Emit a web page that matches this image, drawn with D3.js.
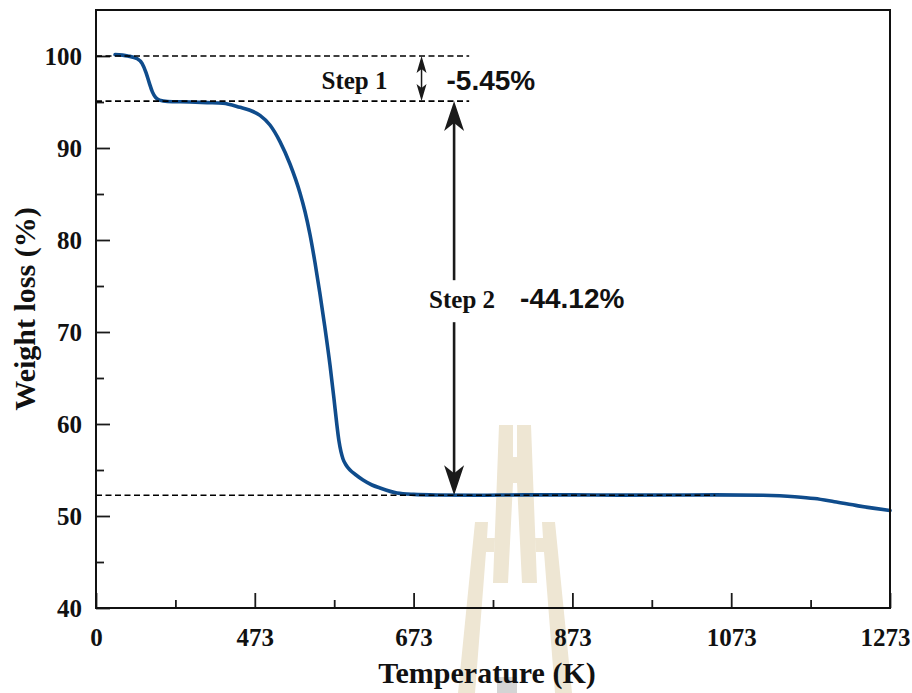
<!DOCTYPE html>
<html>
<head>
<meta charset="utf-8">
<script src="https://cdn.jsdelivr.net/npm/d3@7"></script>
<style>
  html, body { margin: 0; padding: 0; background: #fff; }
  svg { display: block; }
</style>
</head>
<body>
<script>
// ---- data ----
const temps = [24, 40, 52, 58, 63, 67, 71, 75, 80, 90, 118, 140, 160, 181.4, 193.9, 206.5, 219.1, 231.7, 244.3, 256.9, 263.2, 269.5, 275.8, 282.1, 288.4, 294.7, 299.7, 303.1, 306.0, 308.6, 311.1, 314.9, 319.9, 327.5, 336.3, 347.6, 357.7, 379.1, 400, 430, 480, 540, 600, 660, 720, 780, 840, 880, 905, 930, 960, 1000];
const weights = [100.15, 100.0, 99.7, 99.2, 98.2, 97.1, 96.1, 95.5, 95.2, 95.05, 95.0, 94.93, 94.86, 94.42, 94.1, 93.55, 92.5, 90.7, 88.26, 85.11, 83.10, 80.60, 77.55, 74.13, 70.43, 66.41, 62.76, 60.11, 58.15, 56.96, 56.20, 55.54, 55.0, 54.46, 53.91, 53.37, 53.04, 52.5, 52.35, 52.28, 52.25, 52.3, 52.3, 52.27, 52.28, 52.3, 52.25, 52.1, 51.9, 51.55, 51.1, 50.6];
const xTickPos = [0, 200, 400, 600, 800, 1000];
const xTickLabels = ["0", "473", "673", "873", "1073", "1273"];
const xMinor = [100, 300, 500, 700, 900];
const yTicks = [40, 50, 60, 70, 80, 90, 100];
const yMinor = [45, 55, 65, 75, 85, 95];
const refLevels = [100, 95.1, 52.25];
const refEnds = [470, 470, 780];
const step1X = 410, step2X = 451;
const stepNames = ["Step 1", "Step 2"];
const stepValues = ["-5.45%", "-44.12%"];

// ---- layout ----
const W = 912, H = 693;
const L = 96, R = 890, T = 10, B = 608;
const x = d3.scaleLinear().domain([0, 1000]).range([L, R]);
const y = d3.scaleLinear().domain([40, 105]).range([B, T]);

const svg = d3.select("body").append("svg").attr("width", W).attr("height", H);
svg.append("rect").attr("width", W).attr("height", H).attr("fill", "#fff");

// ---- watermark (decorative logo) ----
const wm = svg.append("g").attr("fill", "#eee6d3");
const cx = 515;
const inner = [[499,425],[513,425],[513,457],[517,457],[517,425],[531,425],[537,583],[522,583],[517,483],[513,483],[508,583],[493,583]];
const outerL = [[475,522],[488,522],[487,538],[495,538],[494.3,552],[486,552],[475,693],[458,693]];
const outerR = outerL.map(p => [2*cx - p[0], p[1]]);
[inner, outerL, outerR].forEach(pts => wm.append("polygon").attr("points", pts.map(p => p.join(",")).join(" ")));
svg.append("rect").attr("x", 497).attr("y", 677).attr("width", 20).attr("height", 16).attr("fill", "#d4d4d4");

const serif = "'Liberation Serif','Times New Roman',serif";
const sans = "'Liberation Sans',Arial,sans-serif";

// ---- axes ----
const xAxis = svg.append("g").attr("transform", `translate(0,${B})`)
  .call(d3.axisBottom(x).tickValues(xTickPos).tickFormat((d, i) => xTickLabels[i]).tickSize(-15).tickPadding(20));
const xAxisMinor = svg.append("g").attr("transform", `translate(0,${B})`)
  .call(d3.axisBottom(x).tickValues(xMinor).tickFormat("").tickSize(-8));
const yAxis = svg.append("g").attr("transform", `translate(${L},0)`)
  .call(d3.axisLeft(y).tickValues(yTicks).tickSize(-14).tickPadding(14));
const yAxisMinor = svg.append("g").attr("transform", `translate(${L},0)`)
  .call(d3.axisLeft(y).tickValues(yMinor).tickFormat("").tickSize(-8));
[xAxis, xAxisMinor, yAxis, yAxisMinor].forEach(g => {
  g.select(".domain").remove();
  g.selectAll(".tick line").attr("stroke", "#1a1a1a").attr("stroke-width", 1.8);
  g.selectAll("text").attr("font-family", serif).attr("font-weight", "bold").attr("font-size", 25).attr("fill", "#111");
});
yAxis.selectAll("text").attr("dy", "0.34em");
xAxis.selectAll(".tick text").filter(d => d === 1000).attr("dx", -5);

// ---- curve ----
const pts = temps.map((t, i) => [t, weights[i]]);
svg.append("path").datum(pts)
  .attr("fill", "none").attr("stroke", "#0f4c8c").attr("stroke-width", 3.6)
  .attr("stroke-linejoin", "round").attr("stroke-linecap", "round")
  .attr("d", d3.line().x(d => x(d[0])).y(d => y(d[1])).curve(d3.curveMonotoneX));

// ---- reference dashed lines ----
refLevels.forEach((v, i) => {
  svg.append("line").attr("x1", x(0)).attr("x2", x(refEnds[i]))
    .attr("y1", y(v)).attr("y2", y(v))
    .attr("stroke", "#000").attr("stroke-width", 1.6).attr("stroke-dasharray", "6,3.5");
});

// ---- frame ----
svg.append("rect").attr("x", L).attr("y", T).attr("width", R - L).attr("height", B - T)
  .attr("fill", "none").attr("stroke", "#111").attr("stroke-width", 2);

// ---- arrows ----
function head(tx, ty, dir, len, hw, notch) {
  const by = ty + dir * len, ny = ty + dir * (len - notch);
  return `M${tx},${ty}L${tx - hw},${by}L${tx},${ny}L${tx + hw},${by}Z`;
}
const ink = "#1a1a1a";
const s1x = x(step1X), s1t = y(refLevels[0]), s1b = y(refLevels[1]);
svg.append("line").attr("x1", s1x).attr("x2", s1x).attr("y1", s1t + 4).attr("y2", s1b - 4).attr("stroke", ink).attr("stroke-width", 1.5);
svg.append("path").attr("d", head(s1x, s1t, 1, 17, 5, 4)).attr("fill", ink);
svg.append("path").attr("d", head(s1x, s1b, -1, 17, 5, 4)).attr("fill", ink);

const s2x = x(step2X), s2t = y(refLevels[1]), s2b = y(refLevels[2]);
const mid = (s2t + s2b) / 2;
svg.append("line").attr("x1", s2x).attr("x2", s2x).attr("y1", s2t + 20).attr("y2", mid - 18).attr("stroke", ink).attr("stroke-width", 2.6);
svg.append("line").attr("x1", s2x).attr("x2", s2x).attr("y1", mid + 24).attr("y2", s2b - 20).attr("stroke", ink).attr("stroke-width", 2.6);
svg.append("path").attr("d", head(s2x, s2t, 1, 30, 10, 8)).attr("fill", ink);
svg.append("path").attr("d", head(s2x, s2b, -1, 30, 10, 8)).attr("fill", ink);

// ---- annotation text ----
const s1mid = (s1t + s1b) / 2;
svg.append("text").attr("x", s1x - 34).attr("y", s1mid + 10).attr("text-anchor", "end")
  .attr("font-family", serif).attr("font-weight", "bold").attr("font-size", 25).attr("fill", "#111").text(stepNames[0]);
svg.append("text").attr("x", s1x + 25).attr("y", s1mid + 11)
  .attr("font-family", sans).attr("font-weight", "bold").attr("font-size", 28).attr("fill", "#111").text(stepValues[0]);
svg.append("text").attr("x", s2x + 41).attr("y", mid + 10).attr("text-anchor", "end")
  .attr("font-family", serif).attr("font-weight", "bold").attr("font-size", 25).attr("fill", "#111").text(stepNames[1]);
svg.append("text").attr("x", s2x + 66).attr("y", mid + 10)
  .attr("font-family", sans).attr("font-weight", "bold").attr("font-size", 28).attr("fill", "#111").text(stepValues[1]);

// ---- axis titles ----
svg.append("text").attr("x", (L + R) / 2 - 6).attr("y", 683).attr("text-anchor", "middle")
  .attr("font-family", serif).attr("font-weight", "bold").attr("font-size", 30).attr("fill", "#111")
  .text("Temperature (K)");
svg.append("text").attr("transform", `translate(35,${(T + B) / 2}) rotate(-90)`).attr("text-anchor", "middle")
  .attr("font-family", serif).attr("font-weight", "bold").attr("font-size", 30).attr("fill", "#111")
  .text("Weight loss (%)");
</script>
</body>
</html>
